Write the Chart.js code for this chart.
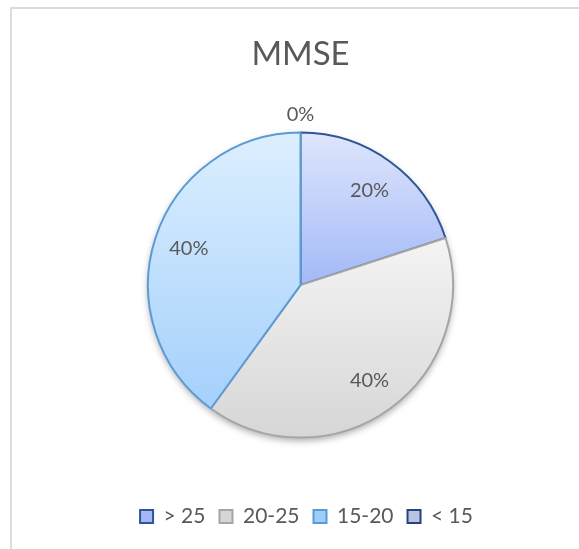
<!DOCTYPE html>
<html>
<head>
<meta charset="utf-8">
<script src="https://cdn.jsdelivr.net/npm/chart.js@4/dist/chart.umd.min.js"></script>
<style>
  body { margin: 0; background: #fff; }
  #frame {
    position: absolute; left: 10px; top: 7px; width: 580px; height: 600px;
    border-left: 2px solid #dcdcdc; border-top: 2px solid #dcdcdc;
  }
  #wrap { position: absolute; left: 0; top: 0; width: 579px; height: 549px; }
</style>
</head>
<body>
<div id="frame"></div>
<div id="wrap"><canvas id="mmse" width="579" height="549"></canvas></div>
<script>
'use strict';
const categories = ['> 25', '20-25', '15-20', '< 15'];
const percents = [20, 40, 40, 0];

const TEXT_GREY = '#595959';
const topColors = ['#dfe6fc', '#f4f4f4', '#ddeffe', '#dde2f4'];
const bottomColors = ['#a3b9f7', '#d6d6d6', '#9ecdfc', '#b9c1e4'];
const borderColors = ['#2f5597', '#a5a5a5', '#5b9bd5', '#264478'];
// vertical extent of each slice's gradient, in radii from the centre
const gradSpan = [[-1, 0], [-0.31, 1], [-1, 1], [-1, 1]];

function sliceFill(context) {
  const chart = context.chart;
  const area = chart.chartArea;
  const i = context.dataIndex;
  if (!area) return bottomColors[i];
  const cy = (area.top + area.bottom) / 2;
  const r = Math.min(area.right - area.left, area.bottom - area.top) / 2;
  const g = chart.ctx.createLinearGradient(0, cy + gradSpan[i][0] * r, 0, cy + gradSpan[i][1] * r);
  g.addColorStop(0, topColors[i]);
  g.addColorStop(1, bottomColors[i]);
  return g;
}

const pieShadow = {
  id: 'pieShadow',
  beforeDatasetsDraw(chart) {
    const arc = chart.getDatasetMeta(0).data[0];
    if (!arc) return;
    const { x, y, outerRadius } = arc.getProps(['x', 'y', 'outerRadius'], true);
    const c = chart.ctx;
    c.save();
    c.shadowColor = 'rgba(0,0,0,0.35)';
    c.shadowBlur = 7;
    c.shadowOffsetY = 3;
    c.fillStyle = '#ffffff';
    c.beginPath();
    c.arc(x, y, outerRadius, 0, Math.PI * 2);
    c.fill();
    c.restore();
  },
};

const pctLabels = {
  id: 'pctLabels',
  afterDatasetsDraw(chart) {
    const c = chart.ctx;
    const values = chart.data.datasets[0].data;
    c.save();
    c.font = '20px Lato';
    c.fillStyle = TEXT_GREY;
    c.textAlign = 'center';
    c.textBaseline = 'middle';
    chart.getDatasetMeta(0).data.forEach((arc, i) => {
      const p = arc.getProps(['x', 'y', 'startAngle', 'endAngle', 'outerRadius'], true);
      const mid = (p.startAngle + p.endAngle) / 2;
      const r = values[i] > 0 ? p.outerRadius * 0.77 : p.outerRadius + 18;
      c.fillText(values[i] + '%', p.x + Math.cos(mid) * r, p.y + Math.sin(mid) * r);
    });
    c.restore();
  },
};

// the legend sits a little right of the pie centre
const legendNudge = {
  id: 'legendNudge',
  afterLayout(chart) {
    chart.legend.left += 12;
  },
};

const mmseCtx = document.getElementById('mmse').getContext('2d');

const mmseChart = new Chart(mmseCtx, {
  type: 'pie',
  data: {
    labels: categories,
    datasets: [
      {
        label: 'MMSE',
        data: percents,
        backgroundColor: sliceFill,
        borderColor: borderColors,
        borderWidth: 2,
      },
    ],
  },
  options: {
    responsive: false,
    animation: false,
    layout: { padding: { left: 22, right: 0, top: 0, bottom: 12 } },
    plugins: {
      tooltip: { enabled: false },
      title: {
        display: true,
        text: 'MMSE',
        color: TEXT_GREY,
        font: { family: 'Lato', size: 33, weight: 'normal' },
        padding: { top: 35, bottom: 57 },
      },
      legend: {
        position: 'bottom',
        title: { display: true, text: ' ', font: { size: 12 }, padding: 19.5 },
        labels: {
          color: TEXT_GREY,
          font: { family: 'Lato', size: 21 },
          boxWidth: 13,
          boxHeight: 13,
          padding: 14,
        },
      },
    },
  },
  plugins: [pieShadow, pctLabels, legendNudge],
});
</script>
</body>
</html>
